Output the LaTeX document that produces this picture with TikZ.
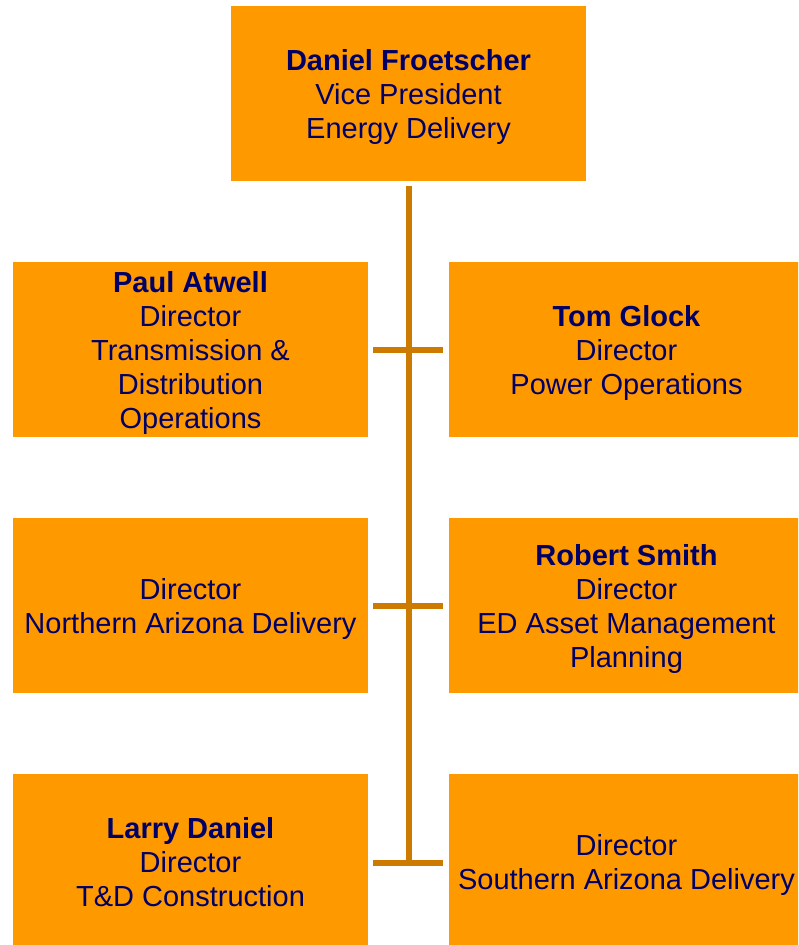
\documentclass[tikz,border=0pt]{standalone}
\usepackage{fontspec}
\setmainfont{Liberation Sans}
\definecolor{boxorange}{RGB}{255,153,0}
\definecolor{lineorange}{RGB}{204,122,0}
\definecolor{navytext}{RGB}{0,0,102}
\tikzset{
  orgbox/.style={rectangle, fill=boxorange, draw=none, inner sep=0pt, outer sep=0pt,
    minimum width=355pt, minimum height=175pt},
  orgtext/.style={inner sep=0pt, align=center, text=navytext,
    font=\fontsize{29}{34}\selectfont},
  conn/.style={draw=lineorange, line width=6pt}
}
\begin{document}
\begin{tikzpicture}[x=1pt,y=-1pt]
\useasboundingbox (0,0) rectangle (798,945);
\clip (0,0) rectangle (798,945);
\node[orgbox] (top) at (408.5,93.5) {};
\node[orgbox] (l1) at (190.5,349.5) {};
\node[orgbox] (r1) at (626.5,349.5) {};
\node[orgbox] (l2) at (190.5,605.5) {};
\node[orgbox] (r2) at (626.5,605.5) {};
\node[orgbox, minimum height=176pt] (l3) at (190.5,862) {};
\node[orgbox, minimum height=176pt] (r3) at (626.5,862) {};
\node[orgtext] (topt) at ([yshift=-3.5pt]top.center) {\textbf{Daniel Froetscher}\\Vice President\\Energy Delivery};
\node[orgtext] (l1t) at ([yshift=-3.5pt]l1.center) {\textbf{Paul Atwell}\\Director\\Transmission \&\\Distribution\\Operations};
\node[orgtext] (r1t) at ([yshift=-3.5pt]r1.center) {\textbf{Tom Glock}\\Director\\Power Operations};
\node[orgtext] (l2t) at ([yshift=-3.5pt]l2.center) {Director\\Northern Arizona Delivery};
\node[orgtext] (r2t) at ([yshift=-3.5pt]r2.center) {\textbf{Robert Smith}\\Director\\ED Asset Management\\Planning};
\node[orgtext] (l3t) at (l3.center) {\textbf{Larry Daniel}\\Director\\T\&D Construction};
\node[orgtext] (r3t) at ([yshift=-3pt]r3.center) {Director\\Southern Arizona Delivery};
\coordinate (vend) at (408.5,864);
\draw[conn, shorten <=5pt] (top.south) -- (vend);
\draw[conn, shorten <=5pt, shorten >=6pt] (l1.east) -- (r1.west);
\draw[conn, shorten <=5pt, shorten >=6pt] (l2.east) -- (r2.west);
\draw[conn, shorten <=5pt, shorten >=6pt] ([yshift=-1pt]l3.east) -- ([yshift=-1pt]r3.west);
\end{tikzpicture}
\end{document}
